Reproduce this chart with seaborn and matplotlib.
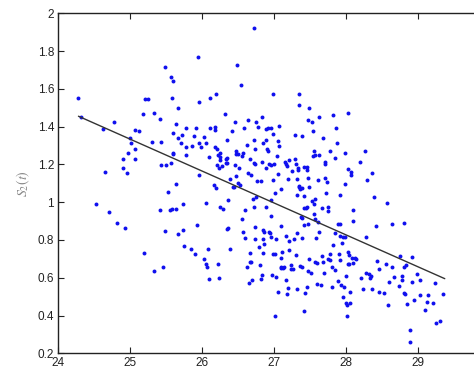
import numpy as np
import pandas as pd
import matplotlib
matplotlib.use("Agg")
import matplotlib.pyplot as plt
import seaborn as sns

# Scatter data (x, S2(t))
x_vals = [
24.27,24.32,24.62,24.65,24.53,24.71,24.78,24.82,24.93,24.90,24.90,24.95,24.97,25.00,25.01,25.06,25.12,25.06,25.07,
25.18,25.21,25.24,25.19,25.33,25.33,25.30,25.41,25.43,25.41,25.43,25.48,25.49,25.48,25.45,25.53,25.55,25.56,25.57,
25.60,25.58,25.59,25.59,25.60,25.58,25.64,25.64,25.63,25.66,25.67,25.67,25.71,25.72,25.73,25.73,25.74,25.77,25.78,
25.78,25.84,25.86,25.88,25.90,25.92,25.93,25.94,25.96,25.96,25.96,25.98,26.02,26.05,26.05,26.03,26.05,26.07,26.08,
26.11,26.11,26.10,26.10,26.16,26.18,26.18,26.18,26.19,26.19,26.20,26.20,26.22,26.22,26.23,26.23,26.24,26.25,26.25,
26.27,26.24,26.29,26.32,26.33,26.33,26.34,26.34,26.35,26.36,26.36,26.35,26.38,26.38,26.42,26.43,26.44,26.45,26.45,
26.47,26.47,26.47,26.48,26.49,26.49,26.51,26.52,26.54,26.55,26.56,26.55,26.57,26.58,26.59,26.60,26.62,26.62,26.64,
26.64,26.65,26.66,26.67,26.67,26.68,26.68,26.69,26.71,26.72,26.72,26.72,26.73,26.72,26.74,26.74,26.74,26.75,26.75,
26.76,26.78,26.79,26.80,26.81,26.81,26.83,26.83,26.83,26.84,26.84,26.84,26.85,26.86,26.86,26.88,26.88,26.89,26.89,
26.90,26.91,26.92,26.93,26.93,26.94,26.95,26.96,26.96,26.96,26.96,26.97,26.98,26.98,26.99,26.99,27.00,27.01,27.01,
27.02,27.02,27.01,27.04,27.05,27.05,27.05,27.06,27.07,27.09,27.09,27.10,27.10,27.10,27.11,27.12,27.13,27.15,27.16,
27.17,27.17,27.18,27.18,27.19,27.19,27.20,27.21,27.21,27.23,27.24,27.25,27.26,27.27,27.29,27.29,27.30,27.30,27.31,
27.32,27.32,27.32,27.33,27.33,27.34,27.35,27.34,27.35,27.36,27.36,27.37,27.38,27.38,27.39,27.39,27.39,27.41,27.41,
27.41,27.41,27.42,27.43,27.44,27.45,27.45,27.46,27.46,27.47,27.47,27.47,27.47,27.48,27.49,27.49,27.51,27.52,27.52,
27.54,27.54,27.55,27.55,27.55,27.56,27.56,27.56,27.57,27.58,27.59,27.60,27.61,27.61,27.62,27.62,27.62,27.65,27.67,
27.67,27.68,27.68,27.69,27.70,27.71,27.71,27.72,27.74,27.75,27.75,27.75,27.77,27.77,27.78,27.80,27.80,27.81,27.82,
27.84,27.84,27.85,27.86,27.87,27.88,27.89,27.90,27.91,27.91,27.91,27.92,27.93,27.94,27.95,27.96,27.97,27.98,27.98,
27.99,28.00,28.00,28.01,28.01,28.02,28.02,28.03,28.03,28.04,28.04,28.05,28.05,28.07,28.07,28.08,28.09,28.09,28.09,
28.12,28.14,28.19,28.20,28.23,28.26,28.27,28.29,28.28,28.32,28.33,28.35,28.36,28.36,28.38,28.41,28.43,28.45,28.46,
28.52,28.56,28.57,28.58,28.59,28.63,28.64,28.66,28.74,28.75,28.78,28.78,28.80,28.81,28.81,28.82,28.85,28.83,28.89,
28.89,28.91,28.91,28.94,28.99,29.03,29.03,29.10,29.13,29.12,29.20,29.23,29.25,29.31,29.35]
s2_vals = [
1.550,1.453,1.390,1.158,0.992,0.947,1.425,0.890,0.862,1.229,1.181,1.153,1.259,1.338,1.315,1.382,1.375,1.282,1.229,
1.467,1.545,1.546,0.729,1.470,0.638,1.319,1.439,1.319,0.961,1.199,1.716,1.195,0.846,0.659,1.052,0.957,1.206,1.663,
1.644,1.554,1.365,1.259,1.255,0.966,0.966,1.098,1.412,1.497,1.338,0.834,1.312,1.356,0.991,0.853,0.770,1.391,1.294,
1.252,0.754,1.296,1.349,0.726,1.391,0.878,1.771,1.146,1.529,1.312,1.294,1.344,1.312,0.998,0.700,0.673,0.659,0.750,
1.554,1.391,1.241,0.595,1.090,1.291,1.396,1.381,1.573,1.075,1.284,1.197,1.252,0.671,0.599,1.181,1.241,0.977,1.222,
1.194,1.259,0.964,1.465,1.209,1.231,1.329,0.860,1.234,1.010,0.865,1.208,0.754,1.123,1.375,1.081,1.081,1.197,1.423,
1.139,1.269,1.257,1.728,1.102,1.255,1.183,1.090,1.619,1.245,1.259,0.911,0.841,1.395,0.956,0.809,1.301,0.659,1.434,
1.153,0.574,1.227,0.729,0.684,1.146,0.682,0.587,1.017,1.921,0.973,1.331,0.807,1.206,0.871,1.280,1.202,1.423,1.029,
1.111,1.398,0.765,0.669,1.111,0.595,1.449,1.215,0.615,1.314,0.851,0.805,0.731,0.777,0.844,1.181,1.385,0.977,1.329,
1.282,1.273,1.393,1.204,0.841,0.835,1.197,1.395,1.014,0.929,0.814,0.615,0.728,1.359,1.575,1.116,1.202,1.051,0.398,
0.807,0.606,0.724,1.247,1.148,0.525,1.323,1.300,1.405,0.876,0.659,1.068,0.707,0.652,0.735,0.654,0.655,1.211,1.201,
0.588,0.819,0.514,1.194,0.546,1.125,1.224,0.795,0.745,0.669,0.645,1.167,0.648,0.807,1.231,1.358,1.204,0.721,1.040,
0.835,1.125,0.542,1.172,1.181,1.571,1.513,1.081,1.084,1.070,0.664,0.922,1.349,0.812,1.074,0.918,0.657,0.426,1.187,
0.971,0.879,1.035,0.518,0.971,1.171,1.188,0.975,0.549,1.130,0.636,1.435,0.887,1.082,1.499,0.700,0.624,1.425,1.007,
1.375,1.247,1.273,0.989,0.936,0.682,1.250,0.909,1.017,0.809,0.569,0.678,1.118,0.896,1.449,0.844,1.250,0.562,0.968,
0.714,0.684,1.340,0.624,1.204,1.213,1.128,1.047,1.109,0.977,0.952,0.700,1.273,0.694,0.726,0.659,0.549,0.772,1.460,
0.641,1.234,0.837,1.393,1.312,0.581,0.887,0.726,0.885,1.038,0.694,0.821,0.562,0.782,0.498,0.818,0.553,0.814,1.097,
1.259,0.611,0.468,0.456,0.398,1.174,0.673,0.735,1.474,0.721,0.673,0.523,0.468,1.158,1.144,0.707,0.680,0.957,0.900,
0.703,0.698,1.215,0.597,0.541,1.273,0.816,1.118,0.627,0.620,0.597,0.611,0.541,1.156,1.029,0.876,0.691,0.527,0.645,
0.518,0.671,0.994,0.454,0.578,0.659,0.883,0.602,0.557,0.714,0.611,0.588,0.892,0.657,0.521,0.514,0.460,0.666,0.324,
0.262,0.708,0.576,0.484,0.622,0.587,0.507,0.431,0.511,0.472,0.465,0.574,0.362,0.370,0.514]

# Fitted trend line endpoints
fit_x = [24.28, 29.37]
fit_y = [1.455, 0.595]

x_ticks = [24, 25, 26, 27, 28, 29]
y_ticks = [0.2, 0.4, 0.6, 0.8, 1.0, 1.2, 1.4, 1.6, 1.8, 2.0]
y_tick_labels = ["0.2", "0.4", "0.6", "0.8", "1", "1.2", "1.4", "1.6", "1.8", "2"]
y_label = r"$S_2(t)$"

sns.set_style("ticks")
plt.rcParams["font.family"] = ["Liberation Sans", "DejaVu Sans"]
plt.rcParams["mathtext.fontset"] = "stix"

df = pd.DataFrame({"x": x_vals, "s2": s2_vals})
fit = pd.DataFrame({"x": fit_x, "y": fit_y})

fig = plt.figure(figsize=(4.74, 3.72), dpi=100)
ax = fig.add_axes([0.123, 0.0503, 0.911, 0.914])

sns.scatterplot(data=df, x="x", y="s2", ax=ax, color="#1010ee", s=8,
                linewidth=0, legend=False)
sns.lineplot(data=fit, x="x", y="y", ax=ax, color="#333333", lw=1.0)

ax.set_xlim(24, 30)
ax.set_ylim(0.2, 2.0)
ax.set_xticks(x_ticks)
ax.set_yticks(y_ticks)
ax.set_yticklabels(y_tick_labels)
ax.set_xlabel("")
ax.set_ylabel(y_label, color="#888888", fontsize=10, labelpad=4)
ax.tick_params(direction="in", top=True, right=True, length=4, width=0.8,
               labelsize=8.5, colors="#222222", pad=3)
for sp in ax.spines.values():
    sp.set_linewidth(1.0)
    sp.set_color("#222222")

fig.savefig("out.png", dpi=100)
